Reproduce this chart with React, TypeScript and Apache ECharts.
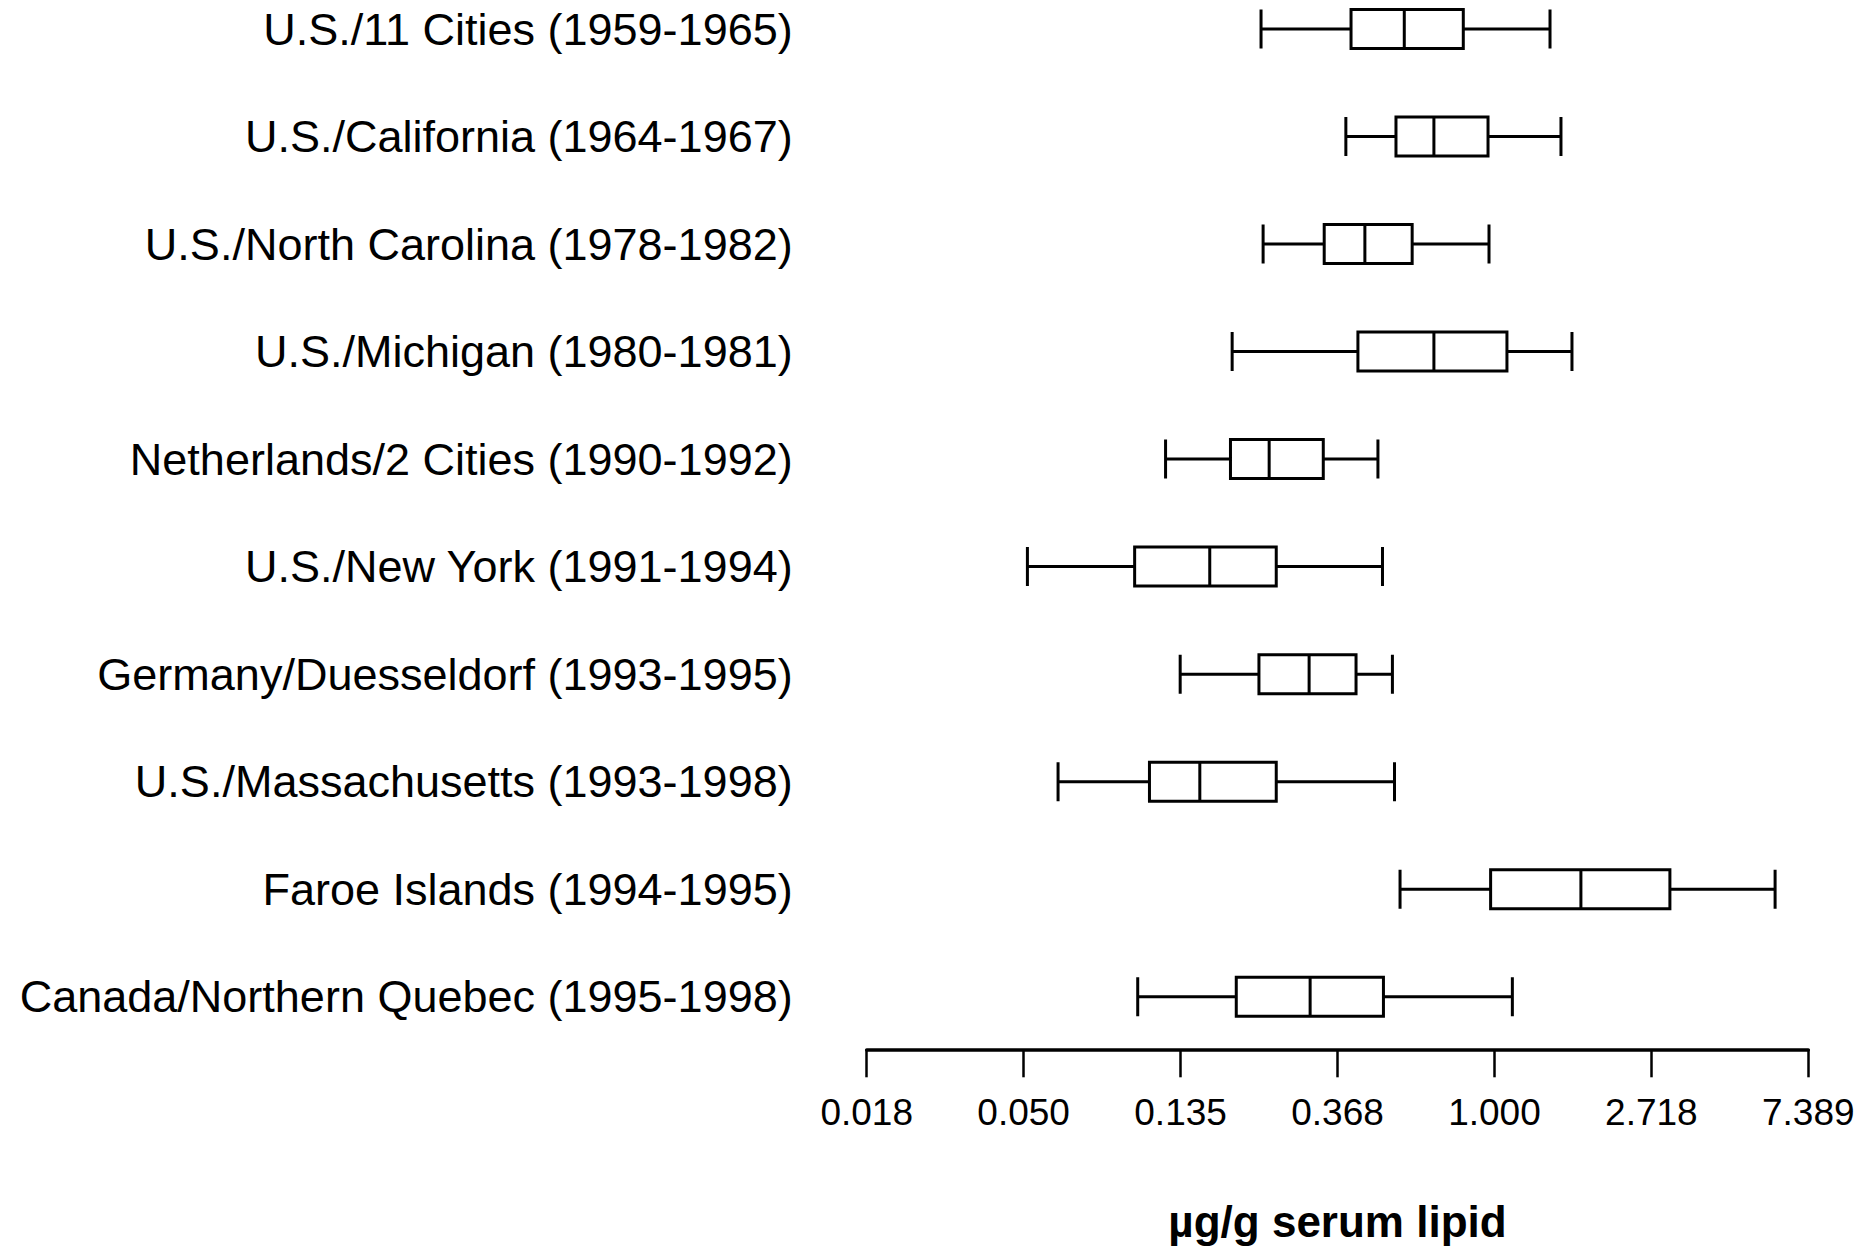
import React, { useEffect, useRef } from "react";
import * as echarts from "echarts";

const categories = [
  "U.S./11 Cities (1959-1965)",
  "U.S./California (1964-1967)",
  "U.S./North Carolina (1978-1982)",
  "U.S./Michigan (1980-1981)",
  "Netherlands/2 Cities (1990-1992)",
  "U.S./New York (1991-1994)",
  "Germany/Duesseldorf (1993-1995)",
  "U.S./Massachusetts (1993-1998)",
  "Faroe Islands (1994-1995)",
  "Canada/Northern Quebec (1995-1998)",
];

// values in µg/g serum lipid
const whiskerLow = [0.226, 0.388, 0.229, 0.188, 0.123, 0.051, 0.135, 0.062, 0.548, 0.103];
const quartile1 = [0.401, 0.534, 0.338, 0.419, 0.186, 0.101, 0.223, 0.111, 0.976, 0.193];
const medians = [0.563, 0.68, 0.438, 0.68, 0.238, 0.163, 0.307, 0.153, 1.735, 0.309];
const quartile3 = [0.82, 0.96, 0.592, 1.083, 0.336, 0.249, 0.414, 0.249, 3.059, 0.493];
const whiskerHigh = [1.425, 1.528, 0.966, 1.639, 0.476, 0.49, 0.522, 0.529, 5.98, 1.121];

// natural-log axis: ticks at e^-4 ... e^2
const tickExponents = [-4, -3, -2, -1, 0, 1, 2];
const tickLabels = ["0.018", "0.050", "0.135", "0.368", "1.000", "2.718", "7.389"];

const axisTitle = "µg/g serum lipid";

export default function App() {
  const ref = useRef<HTMLDivElement>(null);

  useEffect(() => {
    if (!ref.current) return;
    const chart = echarts.init(ref.current, undefined, { renderer: "svg" });
    const boxData = categories.map((_, i) => [
      Math.log(whiskerLow[i]),
      Math.log(quartile1[i]),
      Math.log(medians[i]),
      Math.log(quartile3[i]),
      Math.log(whiskerHigh[i]),
    ]);
    chart.setOption({
      animation: false,
      backgroundColor: "#ffffff",
      grid: { left: 866.7, right: 65.7, top: 29, bottom: 252.3, containLabel: false },
      xAxis: {
        type: "value",
        min: tickExponents[0],
        max: tickExponents[tickExponents.length - 1],
        interval: 1,
        position: "bottom",
        offset: 52.6,
        axisLine: { show: true, lineStyle: { color: "#000", width: 3.5 } },
        axisTick: { show: true, length: 28, lineStyle: { color: "#000", width: 2.5 } },
        splitLine: { show: false },
        axisLabel: {
          margin: 45,
          color: "#000",
          fontSize: 37,
          fontFamily: "'Liberation Sans', Arial, sans-serif",
          formatter: (v: number) => {
            const idx = tickExponents.indexOf(Math.round(v));
            return idx >= 0 ? tickLabels[idx] : "";
          },
        },
        name: axisTitle,
        nameLocation: "middle",
        nameGap: 150,
        nameTextStyle: {
          color: "#000",
          fontSize: 44,
          fontWeight: "bold",
          fontFamily: "'Liberation Sans', Arial, sans-serif",
        },
      },
      yAxis: {
        type: "category",
        data: categories,
        inverse: true,
        boundaryGap: false,
        axisLine: { show: false },
        axisTick: { show: false },
        splitLine: { show: false },
        axisLabel: {
          margin: 74,
          color: "#000",
          fontSize: 45,
          fontFamily: "'Liberation Sans', Arial, sans-serif",
          interval: 0,
          padding: [4, 0, 0, 0],
        },
      },
      series: [
        {
          type: "boxplot",
          data: boxData,
          boxWidth: [39, 39],
          itemStyle: { color: "#ffffff", borderColor: "#000000", borderWidth: 3 },
          emphasis: { disabled: true },
          silent: true,
        },
      ],
    });
    return () => chart.dispose();
  }, []);

  return (
    <div
      ref={ref}
      style={{ position: "absolute", left: 0, top: 0, width: 1874, height: 1249 }}
    />
  );
}
